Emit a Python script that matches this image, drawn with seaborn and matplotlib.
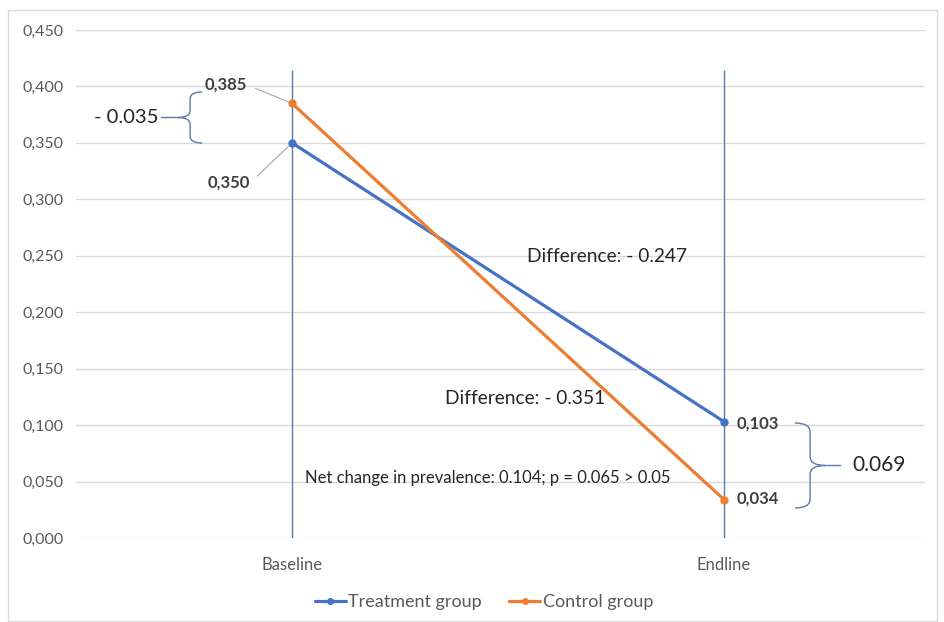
import numpy as np
import pandas as pd
import matplotlib
matplotlib.use("Agg")
import matplotlib.pyplot as plt
import seaborn as sns
from matplotlib.path import Path
from matplotlib.patches import PathPatch, Rectangle
from matplotlib.ticker import FuncFormatter

# data
periods = ["Baseline", "Endline"]
treatment = [0.350, 0.103]
control = [0.385, 0.034]
groups = ["Treatment group", "Control group"]

df = pd.DataFrame({
    "period": periods * 2,
    "value": treatment + control,
    "group": [groups[0]] * 2 + [groups[1]] * 2,
})

sns.set_style("white")
plt.rcParams["font.family"] = ["Lato", "DejaVu Sans"]

fig = plt.figure(figsize=(9.45, 6.22), dpi=100)
ax = fig.add_axes([76 / 945, 1 - 538 / 622, (925 - 76) / 945, (538 - 30) / 622])

blue, orange = "#4472C4", "#ED7D31"
sns.lineplot(data=df, x="period", y="value", hue="group", palette=[blue, orange],
             marker="o", markersize=6, markeredgewidth=0, linewidth=2.3,
             ax=ax, legend=False, zorder=3)

# vertical drop lines at each category
ax.vlines([0, 1], 0, 0.4146, color="#5a7aa8", lw=1, zorder=2)

ax.set_xlim(-0.5, 1.465)
ax.set_ylim(0, 0.45)
ax.set_yticks(np.arange(0, 0.451, 0.05))
ax.yaxis.set_major_formatter(FuncFormatter(lambda v, p: f"{v:.3f}".replace(".", ",")))
ax.grid(axis="y", color="#d9d9d9", lw=1)
ax.set_axisbelow(True)
for s in ax.spines.values():
    s.set_visible(False)
ax.set_xlabel("")
ax.set_ylabel("")
ax.tick_params(axis="y", length=0, labelsize=11.5, labelcolor="#595959", pad=9)
ax.tick_params(axis="x", length=0, labelsize=12, labelcolor="#595959", pad=14)

# data labels with leader lines
lab = dict(fontsize=12, fontweight="bold", color="#404040", va="center")
leader = dict(arrowstyle="-", color="#a6a6a6", lw=0.8, shrinkA=4, shrinkB=3, relpos=(1, 0.5))
ax.annotate("0,385", xy=(0, control[0]), xytext=(-0.104, 0.4013), ha="right",
            arrowprops=leader, **lab)
ax.annotate("0,350", xy=(0, treatment[0]), xytext=(-0.097, 0.3145), ha="right",
            arrowprops=leader, **lab)
ax.text(1.030, 0.101, "0,103", ha="left", **lab)
ax.text(1.030, 0.0354, "0,034", ha="left", **lab)

# annotations
ax.text(0.544, 0.2498, "Difference: - 0.247", fontsize=13.8, color="#262626", va="center")
ax.text(0.354, 0.124, "Difference: - 0.351", fontsize=13.8, color="#262626", va="center")
ax.text(0.030, 0.0531, "Net change in prevalence: 0.104; p = 0.065 > 0.05", fontsize=12,
        color="#262626", va="center")


def brace(xa, xt, y0, y1, d):
    # curly brace with arms at xa, tip at xt, from y0 to y1
    xm = (xa + xt) / 2
    ym = (y0 + y1) / 2
    verts = [(xa, y1), (xm, y1), (xm, y1 - d),
             (xm, ym + d), (xm, ym), (xt, ym),
             (xm, ym), (xm, ym - d),
             (xm, y0 + d), (xm, y0), (xa, y0)]
    codes = [Path.MOVETO, Path.CURVE3, Path.CURVE3,
             Path.LINETO, Path.CURVE3, Path.CURVE3,
             Path.CURVE3, Path.CURVE3,
             Path.LINETO, Path.CURVE3, Path.CURVE3]
    return PathPatch(Path(verts, codes), fill=False, ec="#5a7aa8", lw=1, clip_on=False)


ax.add_patch(brace(-0.208, -0.264, 0.3499, 0.3951, 0.006))
ax.plot([-0.264, -0.303], [0.3725, 0.3725], color="#5a7aa8", lw=1, clip_on=False)
ax.text(-0.310, 0.3725, "- 0.035", fontsize=14.6, color="#262626", ha="right", va="center")

ax.add_patch(brace(1.164, 1.234, 0.0266, 0.1019, 0.008))
ax.plot([1.234, 1.269], [0.0643, 0.0643], color="#5a7aa8", lw=1, clip_on=False)
ax.text(1.296, 0.0643, "0.069", fontsize=15, color="#262626", ha="left", va="center")

# legend
handles = [plt.Line2D([], [], color=c, lw=2.3, marker="o", markersize=4) for c in (blue, orange)]
fig.legend(handles, groups, loc="center", bbox_to_anchor=(484 / 945, 1 - 602 / 622), ncol=2,
           frameon=False, fontsize=13, handlelength=1.7, handletextpad=0.15,
           columnspacing=1.5, labelcolor="#595959")

# chart border
fig.patches.append(Rectangle((8 / 945, 1 - 621 / 622), 929 / 945, 611 / 622,
                             transform=fig.transFigure, fill=False, ec="#d9d9d9", lw=1))

fig.savefig("out.png", dpi=100)
